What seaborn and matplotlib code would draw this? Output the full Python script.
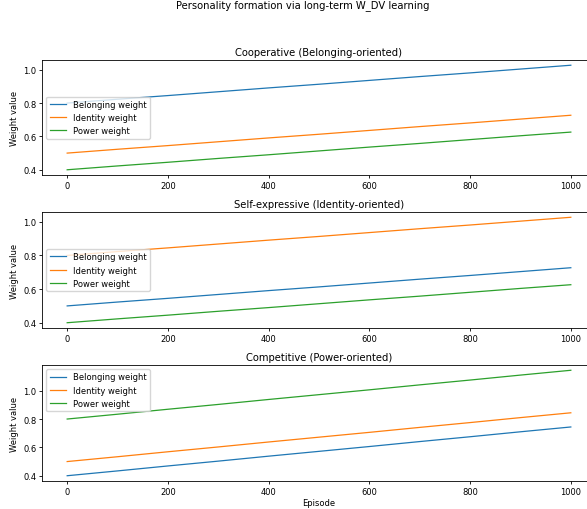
import numpy as np
import pandas as pd
import matplotlib
matplotlib.use("Agg")
import matplotlib.pyplot as plt
import seaborn as sns


# dados (a cada 100 episodios)

EPISODIOS = [0, 100, 200, 300, 400, 500, 600, 700, 800, 900, 1000]

ROTULOS = ["Belonging weight", "Identity weight", "Power weight"]

TITULOS = [
    "Cooperative (Belonging-oriented)",
    "Self-expressive (Identity-oriented)",
    "Competitive (Power-oriented)",
]

COOP_BELONGING = [0.800, 0.823, 0.845, 0.868, 0.891, 0.913, 0.936, 0.959, 0.981, 1.004, 1.027]
COOP_IDENTITY = [0.500, 0.523, 0.545, 0.568, 0.591, 0.613, 0.636, 0.659, 0.681, 0.704, 0.727]
COOP_POWER = [0.400, 0.423, 0.445, 0.468, 0.490, 0.513, 0.536, 0.558, 0.581, 0.604, 0.626]

SELF_BELONGING = [0.500, 0.523, 0.545, 0.568, 0.591, 0.613, 0.636, 0.659, 0.681, 0.704, 0.727]
SELF_IDENTITY = [0.800, 0.823, 0.845, 0.868, 0.891, 0.913, 0.936, 0.959, 0.981, 1.004, 1.027]
SELF_POWER = [0.400, 0.423, 0.445, 0.468, 0.490, 0.513, 0.536, 0.558, 0.581, 0.604, 0.626]

COMP_BELONGING = [0.400, 0.434, 0.469, 0.503, 0.538, 0.572, 0.606, 0.641, 0.675, 0.710, 0.744]
COMP_IDENTITY = [0.500, 0.534, 0.569, 0.603, 0.638, 0.672, 0.706, 0.741, 0.775, 0.810, 0.844]
COMP_POWER = [0.800, 0.834, 0.869, 0.903, 0.938, 0.972, 1.006, 1.041, 1.075, 1.110, 1.144]

SERIES = [
    (COOP_BELONGING, COOP_IDENTITY, COOP_POWER),
    (SELF_BELONGING, SELF_IDENTITY, SELF_POWER),
    (COMP_BELONGING, COMP_IDENTITY, COMP_POWER),
]

LOC_LEGENDA = ["center left", "center left", "upper left"]

CORES = ["#1f77b4", "#ff7f0e", "#2ca02c"]


def montar_tabela(valores) -> pd.DataFrame:
    partes = []
    for rotulo, serie in zip(ROTULOS, valores):
        partes.append(pd.DataFrame({"Episode": EPISODIOS, "valor": serie, "tipo": rotulo}))
    return pd.concat(partes, ignore_index=True)


def main() -> None:
    plt.rcParams["font.size"] = 6.0
    plt.rcParams["axes.linewidth"] = 0.6
    plt.rcParams["xtick.major.width"] = 0.6
    plt.rcParams["ytick.major.width"] = 0.6
    plt.rcParams["xtick.major.size"] = 2.0
    plt.rcParams["ytick.major.size"] = 2.0
    plt.rcParams["xtick.major.pad"] = 2.0
    plt.rcParams["ytick.major.pad"] = 2.0

    W, H = 587, 510
    fig = plt.figure(figsize=(W / 100, H / 100), dpi=100)

    # posicoes em pixels (topo, base) de cada painel
    limites = [(61, 176), (213, 329), (366, 482)]
    esquerda, largura = 42, 554

    for i, (topo, base) in enumerate(limites):
        ax = fig.add_axes([esquerda / W, 1 - base / H, largura / W, (base - topo) / H])
        dados = montar_tabela(SERIES[i])
        sns.lineplot(
            data=dados, x="Episode", y="valor", hue="tipo",
            hue_order=ROTULOS, palette=CORES, linewidth=0.9, ax=ax,
        )
        ax.set_title(TITULOS[i], pad=3.5)
        ax.set_ylabel("Weight value", labelpad=3)
        ax.set_xlabel("Episode" if i == 2 else "", labelpad=2)
        ax.set_xticks([0, 200, 400, 600, 800, 1000])
        ax.set_yticks([0.4, 0.6, 0.8, 1.0])
        ax.legend(loc=LOC_LEGENDA[i], handlelength=2.0, borderpad=0.4,
                  labelspacing=0.5, framealpha=0.8)
        for linha in ax.get_legend().get_lines():
            linha.set_linewidth(0.9)

    fig.suptitle("Personality formation via long-term W_DV learning",
                 x=303 / W, y=1 - 6 / H, va="center")

    fig.savefig("out.png", dpi=100)


if __name__ == "__main__":
    main()
